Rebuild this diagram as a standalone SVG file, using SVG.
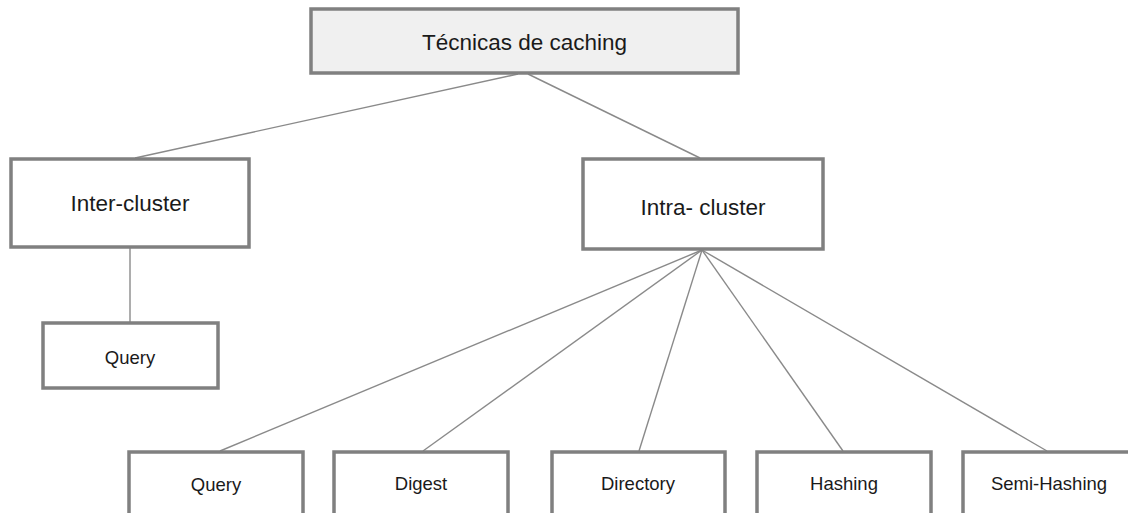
<svg xmlns="http://www.w3.org/2000/svg" width="1128" height="513" viewBox="0 0 1128 513">
<style>
.box{fill:#ffffff;stroke:#808080;stroke-width:3.5}
.root{fill:#f0f0f0}
.lbl{font-family:"Liberation Sans",Arial,sans-serif;fill:#1a1a1a;text-anchor:middle}
.big{font-size:22.5px}
.small{font-size:18.5px}
.conn{stroke:#8a8a8a;stroke-width:1.4;fill:none}
</style>
<rect width="1128" height="513" fill="#ffffff"/>
<g id="connectors">
<line class="conn" x1="518" y1="74" x2="135" y2="158"/>
<line class="conn" x1="528" y1="74" x2="700" y2="158"/>
<line class="conn" x1="130" y1="248" x2="130" y2="322"/>
<line class="conn" x1="702" y1="250" x2="220" y2="451"/>
<line class="conn" x1="702" y1="250" x2="423" y2="451"/>
<line class="conn" x1="702" y1="250" x2="639" y2="451"/>
<line class="conn" x1="702" y1="250" x2="843" y2="451"/>
<line class="conn" x1="702" y1="250" x2="1047" y2="451"/>
</g>
<g id="root">
<rect class="box root" x="311" y="9" width="427" height="64"/>
<text class="lbl big" x="524.5" y="50">Técnicas de caching</text>
</g>
<g id="inter">
<rect class="box" x="11" y="159" width="238" height="88"/>
<text class="lbl big" x="130" y="211">Inter-cluster</text>
</g>
<g id="intra">
<rect class="box" x="583" y="159" width="240" height="90"/>
<text class="lbl big" x="703" y="215">Intra- cluster</text>
</g>
<g id="inter-query">
<rect class="box" x="43" y="323" width="175" height="65"/>
<text class="lbl small" x="130" y="364">Query</text>
</g>
<g id="query">
<rect class="box" x="129" y="452" width="174" height="80"/>
<text class="lbl small" x="216" y="491">Query</text>
</g>
<g id="digest">
<rect class="box" x="334" y="452" width="174" height="80"/>
<text class="lbl small" x="421" y="490">Digest</text>
</g>
<g id="directory">
<rect class="box" x="552" y="452" width="173" height="80"/>
<text class="lbl small" x="638" y="490">Directory</text>
</g>
<g id="hashing">
<rect class="box" x="757" y="452" width="174" height="80"/>
<text class="lbl small" x="844" y="490">Hashing</text>
</g>
<g id="semi-hashing">
<rect class="box" x="963" y="452" width="180" height="80"/>
<text class="lbl small" x="1049" y="490">Semi-Hashing</text>
</g>
</svg>
